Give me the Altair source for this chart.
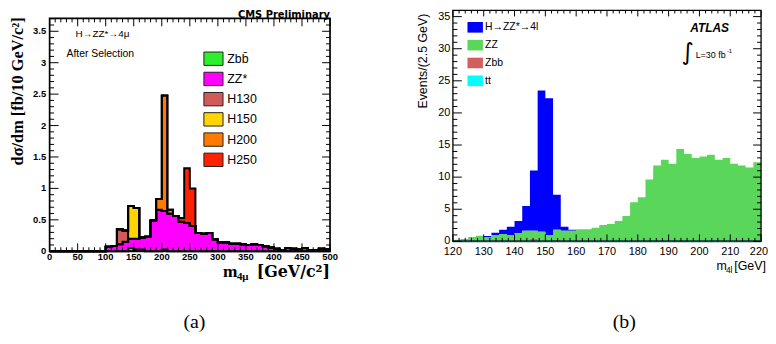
import altair as alt
import pandas as pd

# ---------------- data: panel (a) CMS, 10 GeV bins 0..500 ----------------
A_BIN_START = list(range(0, 500, 10))
A_SERIES = ["Zbb\u0304", "ZZ*", "H130", "H150", "H200", "H250"]
A_COLORS = ["#2BF02B", "#FF00FF", "#D15A5A", "#FFD400", "#FF7B00", "#FF2200"]
A_ZBB = [0] * 14 + [0.05, 0.03, 0.03, 0, 0, 0, 0.03] + [0] * 29
A_ZZ = [0] * 10 + [0.07, 0.085, 0.11, 0.15, 0.15, 0.17, 0.19, 0.23, 0.49, 0.66,
                   0.61, 0.60, 0.56, 0.47, 0.45, 0.40, 0.29, 0.28, 0.29, 0.19,
                   0.14, 0.14, 0.12, 0.12, 0.11, 0.10, 0.11, 0.10, 0.08, 0.06,
                   0.04, 0.02, 0.05, 0.04, 0.03, 0.05, 0.02, 0.02, 0.04, 0.03]
A_H130 = [0] * 12 + [0.24, 0.18] + [0] * 36
A_H150 = [0] * 14 + [0.52, 0.49] + [0] * 34
A_H200 = [0] * 19 + [0.17, 1.84, 0.06] + [0] * 28
A_H250 = [0] * 23 + [0.06, 0.87, 0.60] + [0] * 24
A_VALUES = [A_ZBB, A_ZZ, A_H130, A_H150, A_H200, A_H250]
A_XTICK_LABELS = ["0", "50", "100", "150", "200", "250", "300", "350", "400", "450", "500"]
A_YTICK_LABELS = ["0", "0.5", "1", "1.5", "2", "2.5", "3", "3.5"]

# ---------------- data: panel (b) ATLAS, 2.5 GeV bins 120..220 ----------------
B_BIN_START = [120 + 2.5 * i for i in range(40)]
B_SERIES = ["H\u2192ZZ*\u21924l", "ZZ", "Zbb", "tt"]
B_COLORS = ["#0000FF", "#5AD65A", "#D05F5F", "#00FFFF"]
B_H = [0, 0, 0, 0, 0.25, 0.36, 0.67, 1.29, 1.9, 3.86, 9.4, 22.0, 21.3, 5.45, 0.62, 0.16] + [0] * 24
B_ZZ = [0.26, 0.36, 0.47, 0.87, 0.45, 0.82, 1.13, 0.97, 1.08, 1.64,
        1.24, 1.49, 0.97, 1.6, 1.49, 1.64, 1.9, 1.9, 2.1, 2.41,
        2.72, 3.18, 3.95, 5.95, 6.87, 9.64, 11.8, 12.7, 12.1, 14.4,
        13.6, 13.0, 13.2, 13.5, 12.7, 13.0, 12.1, 11.8, 11.5, 12.3]
B_ZBB = [0, 0, 0.2, 0, 0.15, 0.15, 0, 0, 0.2, 0,
         0.4, 0, 0, 0.2, 0.15, 0, 0, 0, 0, 0.15,
         0, 0, 0, 0.15, 0, 0, 0, 0, 0, 0,
         0, 0, 0, 0, 0, 0, 0, 0, 0, 0]
B_TT = [0] * 40
B_VALUES = [B_H, B_ZZ, B_ZBB, B_TT]
B_XTICK_LABELS = ["120", "130", "140", "150", "160", "170", "180", "190", "200", "210", "220"]
B_YTICK_LABELS = ["0", "5", "10", "15", "20", "25", "30", "35"]

ONE = pd.DataFrame({"d": [0]})

# ---------------- layout ----------------
WA, HA = 283, 243          # panel a plot area (frame top is 8px below origin)
WB, HB = 311, 233
A_PX_PER_UNIT = 63.43
B_PX_PER_UNIT = 6.48


def long_df(starts, width, names, arrays, order):
    rows = []
    edges = list(starts) + [starts[-1] + width]
    for k, (n, arr) in enumerate(zip(names, arrays)):
        for j, x in enumerate(edges):
            rows.append({"x": x, "v": arr[min(j, len(arr) - 1)], "s": n, "o": order[k]})
    return pd.DataFrame(rows)


def T(text, x, y, size, font="Liberation Sans", weight="normal", align="left",
      baseline="middle", angle=0, italic=False):
    kw = dict(text=text, fontSize=size, font=font, fontWeight=weight, align=align,
              baseline=baseline, color="black")
    if angle:
        kw["angle"] = angle
    if italic:
        kw["fontStyle"] = "italic"
    return alt.Chart(ONE).mark_text(**kw).encode(x=alt.value(x), y=alt.value(y))


def box(x1, x2, y1, y2, fill="transparent", stroke="black", sw=1.0):
    kw = dict(stroke=stroke, strokeWidth=sw)
    if fill == "transparent":
        kw["fillOpacity"] = 0
        kw["fill"] = "white"
    else:
        kw["fill"] = fill
    if sw == 0:
        kw.pop("stroke")
        kw["strokeWidth"] = 0
    return alt.Chart(ONE).mark_rect(**kw).encode(
        x=alt.value(x1), x2=alt.value(x2), y=alt.value(y1), y2=alt.value(y2))


def xticks(vals, scale, y1, y2, sw=1.0):
    return alt.Chart(pd.DataFrame({"t": vals})).mark_rule(color="black", strokeWidth=sw).encode(
        x=alt.X("t:Q", scale=scale, axis=None), y=alt.value(y1), y2=alt.value(y2))


def yticks(vals, scale, x1, x2, sw=1.0):
    return alt.Chart(pd.DataFrame({"t": vals})).mark_rule(color="black", strokeWidth=sw).encode(
        y=alt.Y("t:Q", scale=scale, axis=None), x=alt.value(x1), x2=alt.value(x2))


# ================= panel (a) =================
xa = alt.Scale(domain=[0, 500], nice=False, zero=False)
ya = alt.Scale(domain=[0, HA / A_PX_PER_UNIT], nice=False, zero=True)
dfa = long_df(A_BIN_START, 10, A_SERIES, A_VALUES, list(range(len(A_SERIES))))

a_area = alt.Chart(dfa).mark_area(interpolate="step-after", stroke="black", strokeWidth=2).encode(
    x=alt.X("x:Q", scale=xa, axis=None),
    y=alt.Y("v:Q", scale=ya, axis=None, stack="zero"),
    color=alt.Color("s:N", scale=alt.Scale(domain=A_SERIES, range=A_COLORS), legend=None),
    order=alt.Order("o:Q", sort="ascending"),
)

a_xmaj = [int(s) for s in A_XTICK_LABELS]
a_xmin = [v for v in range(0, 501, 10) if v % 50]
a_ymaj = [float(s) for s in A_YTICK_LABELS]
a_ymin = [round(i * 0.1, 1) for i in range(0, 38) if i % 5]

a_layers = [
    a_area,
    box(0, WA, 8, HA, sw=1.7),
    xticks(a_xmaj, xa, HA, HA - 8), xticks(a_xmin, xa, HA, HA - 4),
    xticks(a_xmaj, xa, 8, 16), xticks(a_xmin, xa, 8, 12),
    yticks(a_ymaj, ya, 0, 9), yticks(a_ymin, ya, 0, 4.5),
    yticks(a_ymaj, ya, WA, WA - 8), yticks(a_ymin, ya, WA, WA - 4),
    alt.Chart(pd.DataFrame({"t": a_xmaj, "l": A_XTICK_LABELS})).mark_text(
        font="Liberation Sans", fontWeight="bold", fontSize=9.5, baseline="middle").encode(
        x=alt.X("t:Q", scale=xa, axis=None), y=alt.value(HA + 6), text="l:N"),
    alt.Chart(pd.DataFrame({"t": a_ymaj, "l": A_YTICK_LABELS})).mark_text(
        font="Liberation Sans", fontWeight="bold", fontSize=9.5, align="right", baseline="middle").encode(
        y=alt.Y("t:Q", scale=ya, axis=None), x=alt.value(-3.5), text="l:N"),
    # titles
    T("d\u03c3/dm [fb/10 GeV/c\u00b2]", -32, 7, 16.5, font="Liberation Serif", weight="bold",
      align="right", angle=270),
    T("m", 175, 268.5, 17.5, font="Liberation Serif", weight="bold", baseline="alphabetic"),
    T("4\u03bc", 189, 272, 11, font="Liberation Serif", weight="bold", baseline="alphabetic"),
    T("[GeV/c\u00b2]", WA, 268.5, 16, font="DejaVu Serif", weight="bold", align="right",
      baseline="alphabetic"),
    T("CMS Preliminary", WA, 8, 10, font="DejaVu Sans", weight="bold", align="right",
      baseline="alphabetic"),
    T("H\u2192ZZ*\u21924\u03bc", 26, 23.7, 10),
    T("After Selection", 17, 44.3, 10.5),
    T("(a)", 135, 314, 20, font="Liberation Serif"),
    # invisible left anchor
    alt.Chart(ONE).mark_rule(color="white", strokeWidth=1).encode(
        x=alt.value(-41.5), x2=alt.value(-41.5), y=alt.value(100), y2=alt.value(101)),
]
for i, (n, c) in enumerate(zip(A_SERIES, A_COLORS)):
    cy = 48.7 + i * 20.4
    a_layers.append(box(155.7, 175, cy - 6.75, cy + 6.75, fill=c, stroke="#222222", sw=1.0))
    a_layers.append(T(n, 179.3, cy, 12.5))

pa = alt.layer(*a_layers).properties(width=WA, height=HA)

# ================= panel (b) =================
xb = alt.Scale(domain=[120, 220], nice=False, zero=False)
yb = alt.Scale(domain=[0, HB / B_PX_PER_UNIT], nice=False, zero=True)
dfb = long_df(B_BIN_START, 2.5, B_SERIES, B_VALUES, [3, 2, 1, 0]).rename(columns={"s": "sb"})

b_area = alt.Chart(dfb).mark_area(interpolate="step-after").encode(
    x=alt.X("x:Q", scale=xb, axis=None),
    y=alt.Y("v:Q", scale=yb, axis=None, stack="zero"),
    color=alt.Color("sb:N", scale=alt.Scale(domain=B_SERIES, range=B_COLORS), legend=None),
    order=alt.Order("o:Q", sort="ascending"),
)

b_xmaj = [int(s) for s in B_XTICK_LABELS]
b_xmin = [v for v in range(120, 221, 2) if v % 10]
b_ymaj = [int(s) for s in B_YTICK_LABELS]
b_ymin = [v for v in range(0, 36) if v % 5]

b_layers = [
    b_area,
    box(0, WB, 0, HB, sw=1.3),
    alt.Chart(ONE).mark_rule(color="#0d4747", strokeWidth=2).encode(
        x=alt.value(0), x2=alt.value(WB), y=alt.value(HB)),
    xticks(b_xmaj, xb, HB, HB - 7), xticks(b_xmin, xb, HB, HB - 3.5),
    xticks(b_xmaj, xb, 0, 6), xticks(b_xmin, xb, 0, 3),
    yticks(b_ymaj, yb, 0, 9), yticks(b_ymin, yb, 0, 4.5),
    yticks(b_ymaj, yb, WB, WB - 8), yticks(b_ymin, yb, WB, WB - 4),
    alt.Chart(pd.DataFrame({"t": b_xmaj[:-1], "l": B_XTICK_LABELS[:-1]})).mark_text(
        font="Liberation Sans", fontSize=11, baseline="middle").encode(
        x=alt.X("t:Q", scale=xb, axis=None), y=alt.value(HB + 11), text="l:N"),
    alt.Chart(pd.DataFrame({"t": b_xmaj[-1:], "l": B_XTICK_LABELS[-1:]})).mark_text(
        font="Liberation Sans", fontSize=11, baseline="middle", align="right", dx=7).encode(
        x=alt.X("t:Q", scale=xb, axis=None), y=alt.value(HB + 11), text="l:N"),
    alt.Chart(pd.DataFrame({"t": b_ymaj, "l": B_YTICK_LABELS})).mark_text(
        font="Liberation Sans", fontSize=11, align="right", baseline="middle").encode(
        y=alt.Y("t:Q", scale=yb, axis=None), x=alt.value(-2.5), text="l:N"),
    T("Events/(2.5 GeV)", -30, 99, 12.5, align="left", angle=270),
    T("m", 266, 262, 12.5, baseline="alphabetic"),
    T("4l", 275.5, 265, 8.5, baseline="alphabetic"),
    T("[GeV]", 284, 262, 12.5, baseline="alphabetic"),
    T("ATLAS", 259, 17.5, 12, weight="bold", align="center", italic=True),
    T("\u222b", 237, 43, 24, font="DejaVu Sans", align="center"),
    T("L=30 fb", 245, 45, 9),
    T("-1", 276.5, 40.5, 6),
    T("(b)", 173, 314, 20, font="Liberation Serif", align="center"),
]
for i, (n, c) in enumerate(zip(B_SERIES, B_COLORS)):
    cy = 17 + i * 18
    b_layers.append(box(14.7, 30.3, cy - 5.35, cy + 5.35, fill=c, sw=0))
    b_layers.append(T(n, 32.5, cy, 10.5))

pb = alt.layer(*b_layers).properties(width=WB, height=HB)

chart = alt.hconcat(pa, pb, spacing=124, bounds="flush").resolve_scale(
    color="independent").configure_view(strokeWidth=0).properties(padding=0, background="white")

chart.save("out.html", embed_options={"renderer": "svg", "actions": False})
